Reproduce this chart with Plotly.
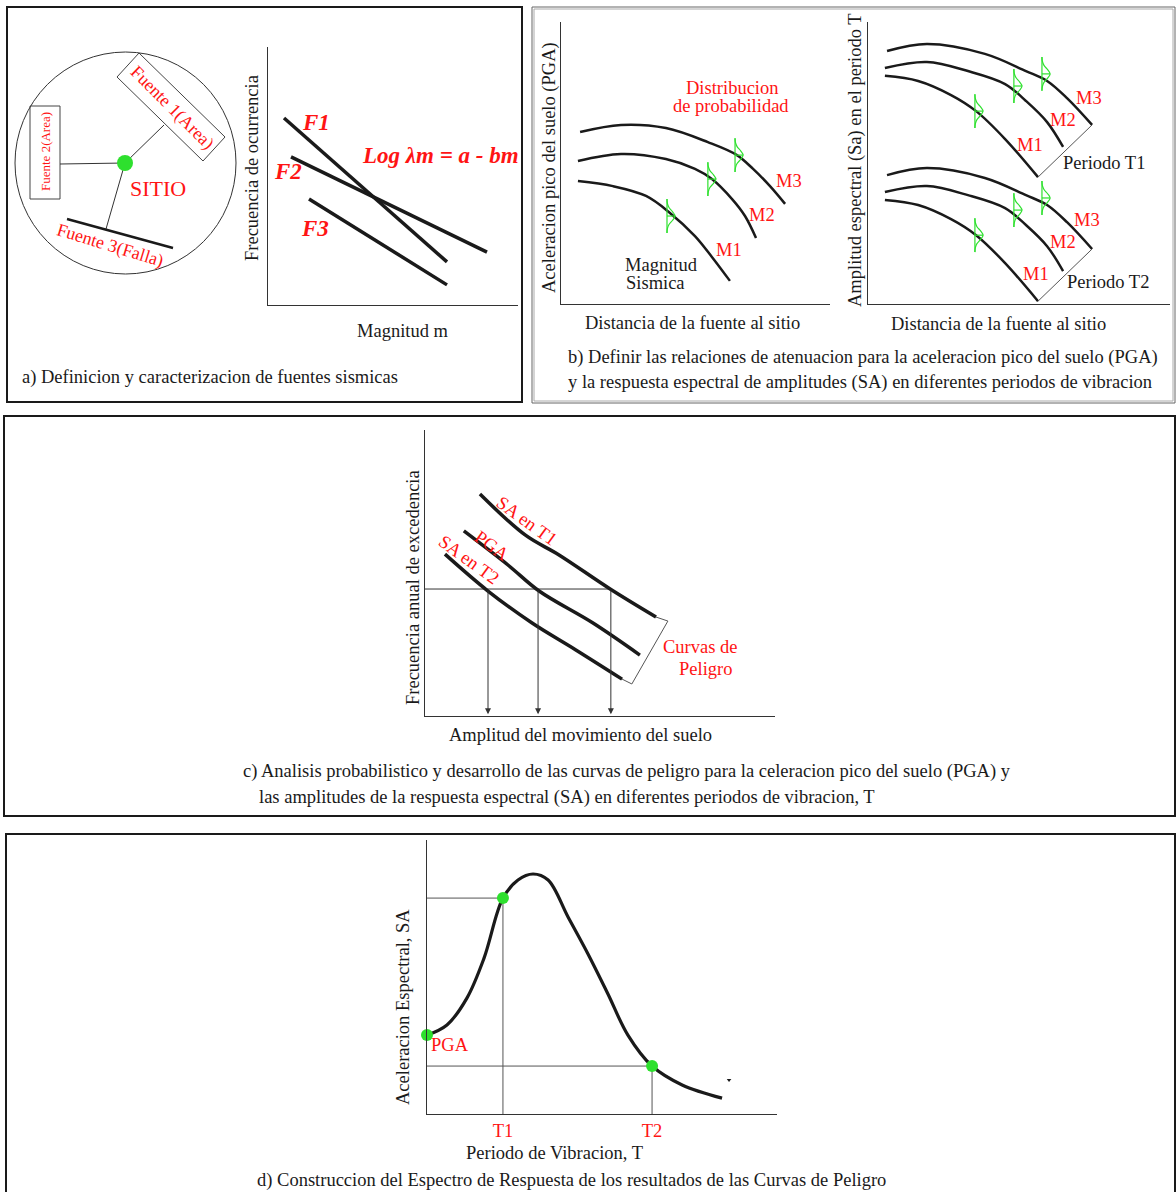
import plotly.graph_objects as go

W, H = 1176, 1192
SERIF = "Liberation Serif"
RED = "#ff1414"
GREEN = "#2ee02e"
INK = "#1a1a1a"
FS = 18.5  # body text size

# ---------------- a) recurrence relations (chart units 0-100) ----------------
f1_mag = [6.4, 71.6]
f1_logn = [72.5, 16.7]
f2_mag = [9.2, 87.6]
f2_logn = [57.4, 20.5]
f3_mag = [16.4, 71.6]
f3_logn = [41.1, 7.8]

# ---------------- b) attenuation curves: PGA vs distance ----------------
pga_m3_d = [7.1, 22.3, 39.0, 54.6, 65.4, 71.4, 77.7, 83.3]
pga_m3_a = [61.0, 63.5, 62.4, 57.4, 52.8, 47.9, 41.8, 35.5]
pga_m2_d = [6.3, 22.3, 39.0, 49.8, 56.1, 63.6, 68.4, 72.5]
pga_m2_a = [50.7, 53.2, 51.4, 47.9, 44.3, 37.2, 31.2, 23.4]
pga_m1_d = [6.3, 19.3, 31.6, 40.5, 49.8, 56.1, 62.8]
pga_m1_a = [43.6, 41.8, 38.3, 32.3, 24.1, 16.7, 8.2]
pga_scatter_d = [39.4, 54.6, 64.7]
pga_scatter_a = [31.2, 44.3, 52.8]

# ---------------- b) attenuation curves: SA at T1 and T2 ----------------
sa_m3_d = [6.3, 19.5, 38.7, 52.3, 59.3, 65.9, 74.2]
sa_t1_m3 = [89.7, 92.2, 88.7, 82.6, 79.1, 73.0, 63.5]
sa_t2_m3 = [45.7, 48.2, 44.7, 38.6, 35.1, 29.0, 19.5]
sa_m2_d = [5.6, 19.5, 33.1, 45.4, 52.3, 59.3, 64.6]
sa_t1_m2 = [83.7, 85.8, 82.6, 78.0, 72.0, 64.5, 55.7]
sa_t2_m2 = [39.7, 41.8, 38.6, 34.0, 28.0, 20.5, 11.7]
sa_m1_d = [5.6, 16.6, 27.5, 35.8, 45.4, 56.3]
sa_t1_m1 = [80.9, 79.1, 74.1, 68.4, 58.5, 45.0]
sa_t2_m1 = [36.9, 35.1, 30.1, 24.4, 14.5, 1.0]
sa_scatter_d = [35.4, 48.3, 57.6]
sa_t1_scatter = [68.4, 77.3, 81.6]
sa_t2_scatter = [24.4, 33.3, 37.6]

# ---------------- c) hazard curves ----------------
hz_t1_amp = [15.7, 28.6, 38.3, 52.9, 66.0]
hz_t1_freq = [77.6, 63.3, 56.3, 44.4, 34.6]
hz_pga_amp = [11.1, 23.7, 32.6, 48.0, 61.4]
hz_pga_freq = [64.7, 52.8, 43.7, 32.5, 21.3]
hz_t2_amp = [5.7, 18.0, 30.6, 43.1, 56.3]
hz_t2_freq = [56.6, 43.7, 32.5, 23.1, 12.9]
hz_level = 44.4
hz_read_amp = [18.0, 32.3, 53.1]

# ---------------- d) uniform hazard spectrum ----------------
spec_period = [0, 5.7, 11.4, 16.3, 21.7, 26.0, 30.3, 34.6, 40.3, 46.0, 51.7, 57.4, 64.3, 72.9, 84.3]
spec_sa = [28.8, 32.5, 42.3, 56.9, 78.8, 85.4, 87.6, 85.4, 71.9, 58.4, 43.8, 28.8, 17.5, 10.6, 5.8]
spec_pts_period = [0, 21.7, 64.3]
spec_pts_sa = [28.8, 78.8, 17.5]
period_ticks = [21.7, 64.3]
period_labels = ["T1", "T2"]

# bell glyph for the scatter distribution (fractions of glyph width / half-height)
bell_w = [0, 0.05, 0.25, 0.7, 1.0, 0.7, 0.25, 0.05, 0]
bell_h = [1, 0.75, 0.5, 0.25, 0, -0.25, -0.5, -0.75, -1]

fig = go.Figure()


def px(x):
    return x / W


def py(y):
    return 1 - y / H


def curve(xs, ys, ax, width=2.5, color=INK, shape="spline"):
    fig.add_trace(go.Scatter(
        x=xs, y=ys, xaxis="x" + ax, yaxis="y" + ax, mode="lines",
        line=dict(color=color, width=width, shape=shape, smoothing=1.0),
        cliponaxis=False, hoverinfo="skip", showlegend=False))


def bells(xs, ys, ax, w, h):
    for x0, y0 in zip(xs, ys):
        curve([x0, x0], [y0 + h, y0 - h], ax, 1.2, GREEN, "linear")
        curve([x0 + w * f for f in bell_w], [y0 + h * g for g in bell_h], ax, 1.2, GREEN)
        curve([x0, x0 + w], [y0, y0], ax, 1.2, GREEN, "linear")


annotations = []


def label(x, y, s, ax="", size=FS, color=INK, angle=0, xanchor="center"):
    annotations.append(dict(
        x=x, y=y, xref="x" + ax, yref="y" + ax, text=s, showarrow=False,
        textangle=angle, xanchor=xanchor, yanchor="middle",
        font=dict(family=SERIF, size=size, color=color)))


# ---- a)
curve(f1_mag, f1_logn, "2", 3.5, shape="linear")
curve(f2_mag, f2_logn, "2", 3.5, shape="linear")
curve(f3_mag, f3_logn, "2", 3.5, shape="linear")
label(19.2, 70.9, "<b><i>F1</i></b>", "2", 23, RED)
label(8.0, 51.6, "<b><i>F2</i></b>", "2", 23, RED)
label(18.8, 29.8, "<b><i>F3</i></b>", "2", 23, RED)
label(68.8, 58.1, "<b><i>Log λm = a - bm</i></b>", "2", 23, RED)

# ---- b) PGA
curve(pga_m3_d, pga_m3_a, "3")
curve(pga_m2_d, pga_m2_a, "3")
curve(pga_m1_d, pga_m1_a, "3")
bells(pga_scatter_d, pga_scatter_a, "3", 3.0, 6.0)
label(84.8, 43.6, "M3", "3", FS, RED)
label(74.7, 31.6, "M2", "3", FS, RED)
label(62.5, 19.1, "M1", "3", FS, RED)
label(63.9, 76.6, "Distribucion", "3", FS, RED)
label(63.2, 70.2, "de probabilidad", "3", FS, RED)
label(37.2, 13.8, "Magnitud", "3")
label(35.3, 7.4, "Sismica", "3")

# ---- b) SA
for sa_m3, sa_m2, sa_m1, sc in [(sa_t1_m3, sa_t1_m2, sa_t1_m1, sa_t1_scatter),
                                (sa_t2_m3, sa_t2_m2, sa_t2_m1, sa_t2_scatter)]:
    curve(sa_m3_d, sa_m3, "4")
    curve(sa_m2_d, sa_m2, "4")
    curve(sa_m1_d, sa_m1, "4")
    bells(sa_scatter_d, sc, "4", 2.7, 6.0)
    curve([sa_m1_d[-1], sa_m3_d[-1]], [sa_m1[-1], sa_m3[-1]], "4", 1, "#555555", "linear")
label(73.2, 73.0, "M3", "4", FS, RED)
label(64.6, 65.2, "M2", "4", FS, RED)
label(53.6, 56.4, "M1", "4", FS, RED)
label(78.0, 50.0, "Periodo T1", "4")
label(72.5, 29.8, "M3", "4", FS, RED)
label(64.6, 22.0, "M2", "4", FS, RED)
label(55.6, 10.6, "M1", "4", FS, RED)
label(79.5, 7.8, "Periodo T2", "4")

# ---- c) hazard curves
curve([0, hz_read_amp[-1]], [hz_level, hz_level], "5", 1, "#333333", "linear")
for a in hz_read_amp:
    annotations.append(dict(
        x=a, y=0.6, ax=a, ay=hz_level, xref="x5", yref="y5", axref="x5", ayref="y5",
        text="", showarrow=True, arrowhead=2, arrowsize=1.2, arrowwidth=1, arrowcolor="#333333"))
curve(hz_t1_amp, hz_t1_freq, "5", 3.5)
curve(hz_pga_amp, hz_pga_freq, "5", 3.5)
curve(hz_t2_amp, hz_t2_freq, "5", 3.5)
curve([hz_t1_amp[-1], hz_t1_amp[-1] + 3.4, hz_t2_amp[-1] + 2.8, hz_t2_amp[-1]],
      [hz_t1_freq[-1], hz_t1_freq[-1] - 1.4, hz_t2_freq[-1] - 1.7, hz_t2_freq[-1]],
      "5", 1, "#555555", "linear")
label(29.1, 68.2, "SA en T1", "5", FS, RED, 36)
label(19.1, 59.4, "PGA", "5", FS, RED, 36)
label(12.6, 54.5, "SA en T2", "5", FS, RED, 36)
label(78.6, 24.1, "Curvas de", "5", FS, RED)
label(80.0, 16.4, "Peligro", "5", FS, RED)

# ---- d) response spectrum
curve([0, spec_pts_period[1], spec_pts_period[1]], [spec_pts_sa[1], spec_pts_sa[1], 0], "6", 1, "#555555", "linear")
curve([0, spec_pts_period[2], spec_pts_period[2]], [spec_pts_sa[2], spec_pts_sa[2], 0], "6", 1, "#555555", "linear")
curve(spec_period, spec_sa, "6", 3.2)
fig.add_trace(go.Scatter(x=spec_pts_period, y=spec_pts_sa, xaxis="x6", yaxis="y6", mode="markers",
                         marker=dict(size=12, color=GREEN), cliponaxis=False,
                         hoverinfo="skip", showlegend=False))
fig.add_trace(go.Scatter(x=[86.3], y=[12.4], xaxis="x6", yaxis="y6", mode="markers",
                         marker=dict(size=4, color=INK, symbol="triangle-down"),
                         hoverinfo="skip", showlegend=False))
label(6.6, 25.2, "PGA", "6", FS, RED)

# ---- page text (pixel coordinates)
label(252, 168, "Frecuencia de ocurrencia", "", angle=-90)
label(403, 331, "Magnitud m", "")
label(20, 377, "a) Definicion y caracterizacion de fuentes sismicas", "", xanchor="left")
label(158, 188, "SITIO", "", 22, RED)
label(45, 152, "Fuente 2(Area)", "", 13, RED, -90)
label(172, 107, "Fuente 1(Area)", "", 18, RED, 45)
label(110, 245, "Fuente 3(Falla)", "", 18, RED, 17)
label(549, 168, "Aceleracion pico del suelo (PGA)", "", angle=-90)
label(692, 323, "Distancia de la fuente al sitio", "")
label(855, 160, "Amplitud espectral (Sa) en el periodo T", "", angle=-90)
label(998, 324, "Distancia de la fuente al sitio", "")
label(566, 357, "b) Definir las relaciones de atenuacion para la aceleracion pico del suelo (PGA)", "", xanchor="left")
label(566, 382, "y la respuesta espectral de amplitudes (SA) en diferentes periodos de vibracion", "", xanchor="left")
label(413, 588, "Frecuencia anual de excedencia", "", angle=-90)
label(580, 735, "Amplitud del movimiento del suelo", "")
label(241, 771, "c) Analisis probabilistico y desarrollo de las curvas de peligro para la celeracion pico del suelo (PGA) y", "", xanchor="left")
label(257, 797, "las amplitudes de la respuesta espectral (SA) en diferentes periodos de vibracion, T", "", xanchor="left")
label(403, 1007, "Aceleracion Espectral, SA", "", angle=-90)
label(554, 1153, "Periodo de Vibracion, T", "")
label(571, 1180, "d) Construccion del Espectro de Respuesta de los resultados de las Curvas de Peligro", "")

# ---- frames and the source map sketch
shapes = [
    dict(type="rect", x0=7, y0=7, x1=522, y1=402, line=dict(color=INK, width=2)),
    dict(type="rect", x0=532, y0=7, x1=1175, y1=403, line=dict(color="#666666", width=1)),
    dict(type="rect", x0=534, y0=9, x1=1173, y1=401, line=dict(color="#aaaaaa", width=1)),
    dict(type="rect", x0=4, y0=416, x1=1175, y1=816, line=dict(color=INK, width=2)),
    dict(type="rect", x0=6, y0=834, x1=1175, y1=1200, line=dict(color=INK, width=2)),
    dict(type="circle", x0=15, y0=52, x1=236, y1=274, line=dict(color="#333333", width=1)),
    dict(type="rect", x0=30, y0=106, x1=60, y1=199, line=dict(color="#444444", width=1)),
    dict(type="path", path="M 117 77 L 139 53 L 225 137 L 203 161 Z", line=dict(color="#444444", width=1)),
    dict(type="line", x0=60, y0=164, x1=125, y1=163, line=dict(color="#333333", width=1)),
    dict(type="line", x0=125, y0=163, x1=164, y1=125, line=dict(color="#333333", width=1)),
    dict(type="line", x0=125, y0=163, x1=106, y1=229, line=dict(color="#333333", width=1)),
    dict(type="line", x0=67, y0=219, x1=173, y1=248, line=dict(color=INK, width=2.5)),
    dict(type="circle", x0=117, y0=155, x1=133, y1=171, fillcolor=GREEN, line=dict(width=0)),
]
for s in shapes:
    s.update(xref="x", yref="y", layer="above")

axis_common = dict(showgrid=False, zeroline=False, showticklabels=False, ticks="",
                   showline=True, linecolor="#333333", linewidth=1, range=[0, 100], fixedrange=True)


def chart_axes(n, x0, x1, ytop, ybot):
    return {
        f"xaxis{n}": dict(axis_common, domain=[px(x0), px(x1)], anchor=f"y{n}"),
        f"yaxis{n}": dict(axis_common, domain=[py(ybot), py(ytop)], anchor=f"x{n}"),
    }


layout = dict(
    width=W, height=H, margin=dict(l=0, r=0, t=0, b=0),
    paper_bgcolor="white", plot_bgcolor="rgba(0,0,0,0)", showlegend=False,
    xaxis=dict(range=[0, W], domain=[0, 1], visible=False, fixedrange=True),
    yaxis=dict(range=[H, 0], domain=[0, 1], visible=False, fixedrange=True),
    annotations=annotations, shapes=shapes,
)
layout.update(chart_axes(2, 268, 518, 47, 305))
layout.update(chart_axes(3, 561, 830, 22, 304))
layout.update(chart_axes(4, 868, 1170, 22, 304))
layout.update(chart_axes(5, 425, 775, 430, 716))
layout.update(chart_axes(6, 427, 777, 840, 1114))
layout["xaxis6"].update(showticklabels=True, tickvals=period_ticks, ticktext=period_labels,
                        tickfont=dict(family=SERIF, size=FS, color=RED))

fig.update_layout(**layout)
fig.write_html("out.html")
